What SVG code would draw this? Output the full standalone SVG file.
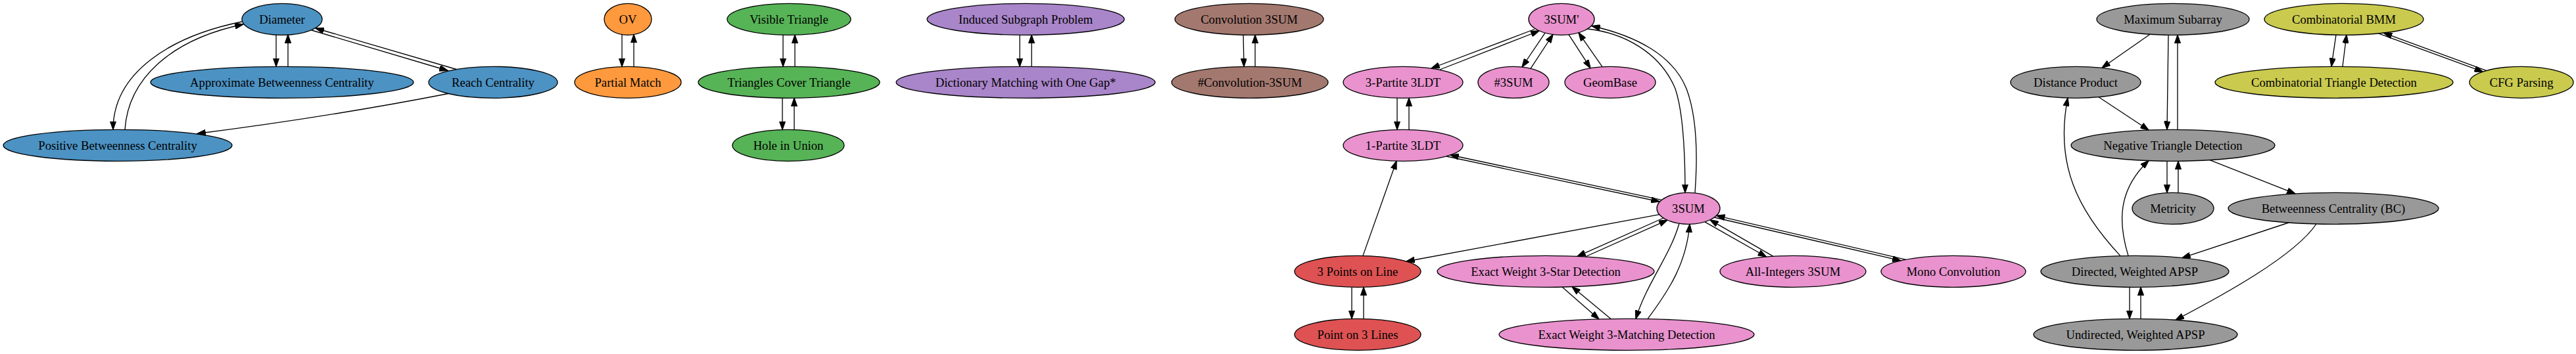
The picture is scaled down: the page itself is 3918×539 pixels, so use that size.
<svg xmlns="http://www.w3.org/2000/svg" width="3918" height="539" viewBox="0 0 3918 539">
<style>
.node ellipse{stroke:#000;stroke-width:1.33}
.node text{font-family:"Liberation Serif","Times New Roman",serif;font-size:18.67px;text-anchor:middle;fill:#000}
#edges path{fill:none;stroke:#000;stroke-width:1.33;marker-end:url(#ah)}
.blue{fill:#4c92c3}.orange{fill:#ff993e}.green{fill:#56b356}.purple{fill:#a985ca}.brown{fill:#a3786f}.pink{fill:#e992ce}.red{fill:#de5253}.gray{fill:#999999}.olive{fill:#c9ca4e}
</style>
<defs>
<marker id="ah" viewBox="0 0 13.33 9.33" refX="12.8" refY="4.67" markerWidth="13.33" markerHeight="9.33" markerUnits="userSpaceOnUse" orient="auto"><path d="M0,0 L13.33,4.67 L0,9.33 z" fill="#000" stroke="#000" stroke-width="1"/></marker>
</defs>
<rect width="3918" height="539" fill="#fff"/>
<g id="n-diameter" class="node"><ellipse class="blue" cx="429" cy="29.3" rx="61" ry="24"/><text x="429" y="35.6">Diameter</text></g>
<g id="n-approx-bc" class="node"><ellipse class="blue" cx="429" cy="125.3" rx="200" ry="24"/><text x="429" y="131.6">Approximate Betweenness Centrality</text></g>
<g id="n-reach" class="node"><ellipse class="blue" cx="750" cy="125.3" rx="98" ry="24"/><text x="750" y="131.6">Reach Centrality</text></g>
<g id="n-pos-bc" class="node"><ellipse class="blue" cx="179" cy="221.3" rx="174" ry="24"/><text x="179" y="227.6">Positive Betweenness Centrality</text></g>
<g id="n-ov" class="node"><ellipse class="orange" cx="955" cy="29.3" rx="36" ry="24"/><text x="955" y="35.6">OV</text></g>
<g id="n-partial-match" class="node"><ellipse class="orange" cx="955" cy="125.3" rx="81" ry="24"/><text x="955" y="131.6">Partial Match</text></g>
<g id="n-visible-triangle" class="node"><ellipse class="green" cx="1200" cy="29.3" rx="94" ry="24"/><text x="1200" y="35.6">Visible Triangle</text></g>
<g id="n-tct" class="node"><ellipse class="green" cx="1200" cy="125.3" rx="138" ry="24"/><text x="1200" y="131.6">Triangles Cover Triangle</text></g>
<g id="n-hole" class="node"><ellipse class="green" cx="1199" cy="221.3" rx="85" ry="24"/><text x="1199" y="227.6">Hole in Union</text></g>
<g id="n-induced" class="node"><ellipse class="purple" cx="1560" cy="29.3" rx="150" ry="24"/><text x="1560" y="35.6">Induced Subgraph Problem</text></g>
<g id="n-dict" class="node"><ellipse class="purple" cx="1560" cy="125.3" rx="197" ry="24"/><text x="1560" y="131.6">Dictionary Matching with One Gap*</text></g>
<g id="n-conv3sum" class="node"><ellipse class="brown" cx="1900" cy="29.3" rx="113" ry="24"/><text x="1900" y="35.6">Convolution 3SUM</text></g>
<g id="n-sharpconv" class="node"><ellipse class="brown" cx="1901" cy="125.3" rx="119" ry="24"/><text x="1901" y="131.6">#Convolution-3SUM</text></g>
<g id="n-3sump" class="node"><ellipse class="pink" cx="2375" cy="29.3" rx="50" ry="24"/><text x="2375" y="35.6">3SUM'</text></g>
<g id="n-3p3ldt" class="node"><ellipse class="pink" cx="2134" cy="125.3" rx="91" ry="24"/><text x="2134" y="131.6">3-Partite 3LDT</text></g>
<g id="n-sharp3sum" class="node"><ellipse class="pink" cx="2302" cy="125.3" rx="54" ry="24"/><text x="2302" y="131.6">#3SUM</text></g>
<g id="n-geombase" class="node"><ellipse class="pink" cx="2449" cy="125.3" rx="69" ry="24"/><text x="2449" y="131.6">GeomBase</text></g>
<g id="n-1p3ldt" class="node"><ellipse class="pink" cx="2134" cy="221.3" rx="91" ry="24"/><text x="2134" y="227.6">1-Partite 3LDT</text></g>
<g id="n-3sum" class="node"><ellipse class="pink" cx="2568" cy="317.3" rx="48" ry="24"/><text x="2568" y="323.6">3SUM</text></g>
<g id="n-3pol" class="node"><ellipse class="red" cx="2065" cy="413.3" rx="96" ry="24"/><text x="2065" y="419.6">3 Points on Line</text></g>
<g id="n-3star" class="node"><ellipse class="pink" cx="2351" cy="413.3" rx="165" ry="24"/><text x="2351" y="419.6">Exact Weight 3-Star Detection</text></g>
<g id="n-allint" class="node"><ellipse class="pink" cx="2727" cy="413.3" rx="111" ry="24"/><text x="2727" y="419.6">All-Integers 3SUM</text></g>
<g id="n-mono" class="node"><ellipse class="pink" cx="2971" cy="413.3" rx="110" ry="24"/><text x="2971" y="419.6">Mono Convolution</text></g>
<g id="n-po3l" class="node"><ellipse class="red" cx="2065" cy="509.3" rx="96" ry="24"/><text x="2065" y="515.6">Point on 3 Lines</text></g>
<g id="n-3match" class="node"><ellipse class="pink" cx="2474" cy="509.3" rx="194" ry="24"/><text x="2474" y="515.6">Exact Weight 3-Matching Detection</text></g>
<g id="n-maxsub" class="node"><ellipse class="gray" cx="3305" cy="29.3" rx="116" ry="24"/><text x="3305" y="35.6">Maximum Subarray</text></g>
<g id="n-distprod" class="node"><ellipse class="gray" cx="3157" cy="125.3" rx="99" ry="24"/><text x="3157" y="131.6">Distance Product</text></g>
<g id="n-ntd" class="node"><ellipse class="gray" cx="3305" cy="221.3" rx="155" ry="24"/><text x="3305" y="227.6">Negative Triangle Detection</text></g>
<g id="n-metricity" class="node"><ellipse class="gray" cx="3305" cy="317.3" rx="62" ry="24"/><text x="3305" y="323.6">Metricity</text></g>
<g id="n-bc" class="node"><ellipse class="gray" cx="3549" cy="317.3" rx="160" ry="24"/><text x="3549" y="323.6">Betweenness Centrality (BC)</text></g>
<g id="n-dapsp" class="node"><ellipse class="gray" cx="3247" cy="413.3" rx="143" ry="24"/><text x="3247" y="419.6">Directed, Weighted APSP</text></g>
<g id="n-uapsp" class="node"><ellipse class="gray" cx="3248" cy="509.3" rx="155" ry="24"/><text x="3248" y="515.6">Undirected, Weighted APSP</text></g>
<g id="n-cbmm" class="node"><ellipse class="olive" cx="3565" cy="29.3" rx="121" ry="24"/><text x="3565" y="35.6">Combinatorial BMM</text></g>
<g id="n-ctd" class="node"><ellipse class="olive" cx="3550" cy="125.3" rx="181" ry="24"/><text x="3550" y="131.6">Combinatorial Triangle Detection</text></g>
<g id="n-cfg" class="node"><ellipse class="olive" cx="3835" cy="125.3" rx="79" ry="24"/><text x="3835" y="131.6">CFG Parsing</text></g>
<g id="edges">
<path d="M420,53 L420,101.3"/>
<path d="M438,101.3 L438,52.8"/>
<path d="M474,46 L681,107.5"/>
<path d="M694,105.5 L480,43"/>
<path d="M368,33 C260,55 172,110 172,197.3"/>
<path d="M190,197.4 C195,120 260,60 370,37"/>
<path d="M682,142.5 Q500,178 300,203.5"/>
<path d="M946,52.5 L946,101.5"/>
<path d="M964,101.5 L964,52.5"/>
<path d="M1191,53.1 L1191,101.4"/>
<path d="M1209,101.4 L1209,53.1"/>
<path d="M1190,149.2 L1190,197.5"/>
<path d="M1208,197.5 L1208,149.2"/>
<path d="M1551,53.2 L1551,101.4"/>
<path d="M1569,101.4 L1569,53.2"/>
<path d="M1891,53.2 L1892,101.4"/>
<path d="M1909,101.4 L1909,53.2"/>
<path d="M2334,44.5 L2177,104"/>
<path d="M2190,106 L2341,47"/>
<path d="M2350,50.1 L2315,102"/>
<path d="M2328,104.3 L2362,52.5"/>
<path d="M2386,52.7 L2419,103.7"/>
<path d="M2437,101.7 L2401,49.8"/>
<path d="M2578,293.8 C2582,240 2582,180 2565,135 C2545,85 2490,55 2421,39.5"/>
<path d="M2414.5,44 C2470,50 2525,80 2548,135 C2560,170 2563,230 2563,293.4"/>
<path d="M2125,149.1 L2125,197.4"/>
<path d="M2143,197.4 L2143,149.1"/>
<path d="M2200,238 L2524,307"/>
<path d="M2527,304.3 L2206,236"/>
<path d="M2073,389.4 L2124,245.2"/>
<path d="M2523.8,326.7 L2139,398"/>
<path d="M2056,437.2 L2056,485.4"/>
<path d="M2074,485.4 L2074,437.2"/>
<path d="M2530,332 L2399,390.3"/>
<path d="M2411,391 L2536,335.2"/>
<path d="M2376,437 L2432,485.9"/>
<path d="M2450,485.5 L2391,436.6"/>
<path d="M2554,340.2 C2540,390 2505,430 2488,485.4"/>
<path d="M2506,485.6 C2540,440 2565,400 2570,341.3"/>
<path d="M2593,337.9 L2686.5,391"/>
<path d="M2696.7,390.2 L2601,334.8"/>
<path d="M2607.4,331 L2891,396.8"/>
<path d="M2899,395.3 L2610.7,328.3"/>
<path d="M3270,52.2 L3197,103.3"/>
<path d="M3298,53.2 L3296,197.3"/>
<path d="M3312,197.4 L3312,53.2"/>
<path d="M3192,147.8 L3268,198"/>
<path d="M3296,245.3 L3296,293.6"/>
<path d="M3313,293.5 L3313,245.3"/>
<path d="M3361,243.7 L3491,294.9"/>
<path d="M3481,339 L3319,392.6"/>
<path d="M3523,341 C3490,390 3380,450 3309,487.2"/>
<path d="M3225,389.6 C3160,320 3125,250 3145,149.1"/>
<path d="M3237,389.4 C3222,340 3220,290 3268,244.6"/>
<path d="M3239,437.2 L3239,485.4"/>
<path d="M3256,485.4 L3256,437.2"/>
<path d="M3553,53.1 L3546,101.3"/>
<path d="M3563,101.3 L3569,53.1"/>
<path d="M3617.5,50.9 L3776.2,109.2"/>
<path d="M3782,107.6 L3625.5,50.2"/>
</g>
</svg>
